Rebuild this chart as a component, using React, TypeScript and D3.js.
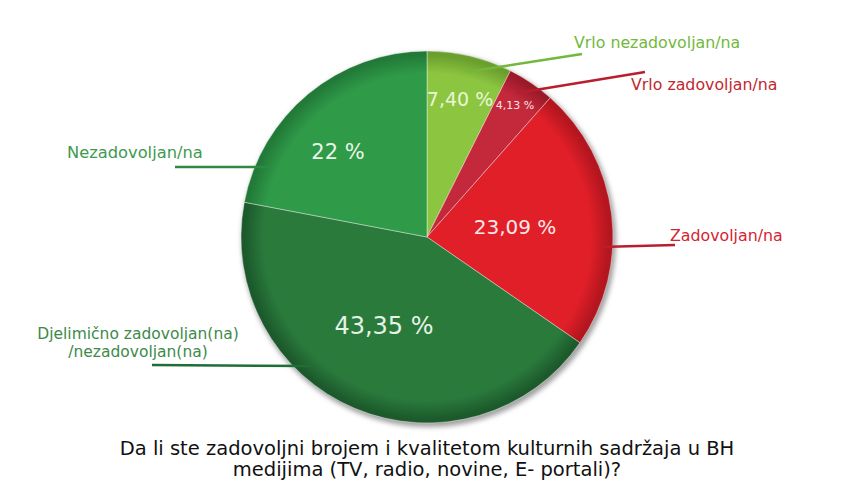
import React from "react";
import * as d3 from "d3";

const categories = [
  "Vrlo nezadovoljan/na",
  "Vrlo zadovoljan/na",
  "Zadovoljan/na",
  "Djelimično zadovoljan(na) /nezadovoljan(na)",
  "Nezadovoljan/na",
];
const values = [7.4, 4.13, 23.09, 43.35, 22];
const valueLabels = ["7,40 %", "4,13 %", "23,09 %", "43,35 %", "22 %"];
const colors = ["#8cc640", "#c4283b", "#e11f28", "#2a7a3c", "#2f9a48"];
const edgeColors = ["#6a9e2e", "#9a1a2a", "#b3161f", "#1c5a2c", "#227a38"];
const labelColors = ["#72b83c", "#c0282f", "#d42430", "#3d8a4a", "#3d9a4e"];
const titleLines = [
  "Da li ste zadovoljni brojem i kvalitetom kulturnih sadržaja u BH",
  "medijima (TV, radio, novine, E- portali)?",
];

const W = 854;
const H = 499;
const cx = 427;
const cy = 237;
const R = 186;

export default function App() {
  const pie = d3.pie<number>().sort(null).value((d) => d)(values);
  const arc = d3.arc<d3.PieArcDatum<number>>().innerRadius(0).outerRadius(R);

  const valuePos: [number, number][] = [
    [460, 100],
    [515, 106],
    [515, 228],
    [384, 327],
    [338, 153],
  ];
  const valueSizes = [19, 11, 20, 24, 21];
  const valueFill = ["#eaf6d6", "#fbe3e5", "#fde8e8", "#e6f2e6", "#eaf6ea"];

  const font = "'DejaVu Sans', sans-serif";

  return (
    <div style={{ margin: -8 }}>
      <svg width={W} height={H} style={{ display: "block", background: "#fff" }}>
        <defs>
          <filter id="shadow" x="-20%" y="-20%" width="140%" height="140%">
            <feGaussianBlur stdDeviation="2.5" />
          </filter>
          {colors.map((c, i) => (
            <radialGradient key={i} id={`g${i}`} gradientUnits="userSpaceOnUse" cx={0} cy={0} r={R}>
              <stop offset="0" stopColor={c} />
              <stop offset="0.88" stopColor={c} />
              <stop offset="0.98" stopColor={edgeColors[i]} />
              <stop offset="1" stopColor={edgeColors[i]} />
            </radialGradient>
          ))}
        </defs>
        <circle cx={cx + 2} cy={cy + 3} r={R + 1} fill="#a0a0a0" filter="url(#shadow)" />
        <g transform={`translate(${cx},${cy})`}>
          {pie.map((p, i) => (
            <path
              key={"s" + i}
              d={arc(p) || ""}
              fill={`url(#g${i})`}
              stroke="rgba(255,255,255,0.4)"
              strokeWidth={1}
            />
          ))}
        </g>
        {pie.map((p, i) => (
          <text
            key={"v" + i}
            x={valuePos[i][0]}
            y={valuePos[i][1]}
            textAnchor="middle"
            dominantBaseline="middle"
            fontFamily={font}
            fontSize={valueSizes[i]}
            fill={valueFill[i]}
          >
            {valueLabels[i]}
          </text>
        ))}
        <line x1={467} y1={72} x2={582} y2={54} stroke={labelColors[0]} strokeWidth={2.5} />
        <line x1={517} y1={93} x2={645} y2={72} stroke="#b81e2c" strokeWidth={2.5} />
        <line x1={600} y1={247} x2={675} y2={245} stroke="#b81e2c" strokeWidth={2.5} />
        <line x1={175} y1={167} x2={270} y2={167} stroke="#2e8a42" strokeWidth={2.5} />
        <line x1={152} y1={365} x2={314} y2={366} stroke="#1f6e35" strokeWidth={2.5} />
        <text x={574} y={48} fontFamily={font} fontSize={15.8} fill={labelColors[0]}>
          {categories[0]}
        </text>
        <text x={631} y={90} fontFamily={font} fontSize={15.8} fill={labelColors[1]}>
          {categories[1]}
        </text>
        <text x={670} y={241} fontFamily={font} fontSize={15.8} fill={labelColors[2]}>
          {categories[2]}
        </text>
        <text x={67} y={158} fontFamily={font} fontSize={16.3} fill={labelColors[4]}>
          {categories[4]}
        </text>
        <text x={138} y={339} textAnchor="middle" fontFamily={font} fontSize={15.5} fill={labelColors[3]}>
          Djelimično zadovoljan(na)
        </text>
        <text x={138} y={357} textAnchor="middle" fontFamily={font} fontSize={15.5} fill={labelColors[3]}>
          /nezadovoljan(na)
        </text>
        {titleLines.map((t, i) => (
          <text
            key={"t" + i}
            x={427}
            y={455 + i * 21}
            textAnchor="middle"
            fontFamily={font}
            fontSize={19.5}
            fill="#111"
          >
            {t}
          </text>
        ))}
      </svg>
    </div>
  );
}
